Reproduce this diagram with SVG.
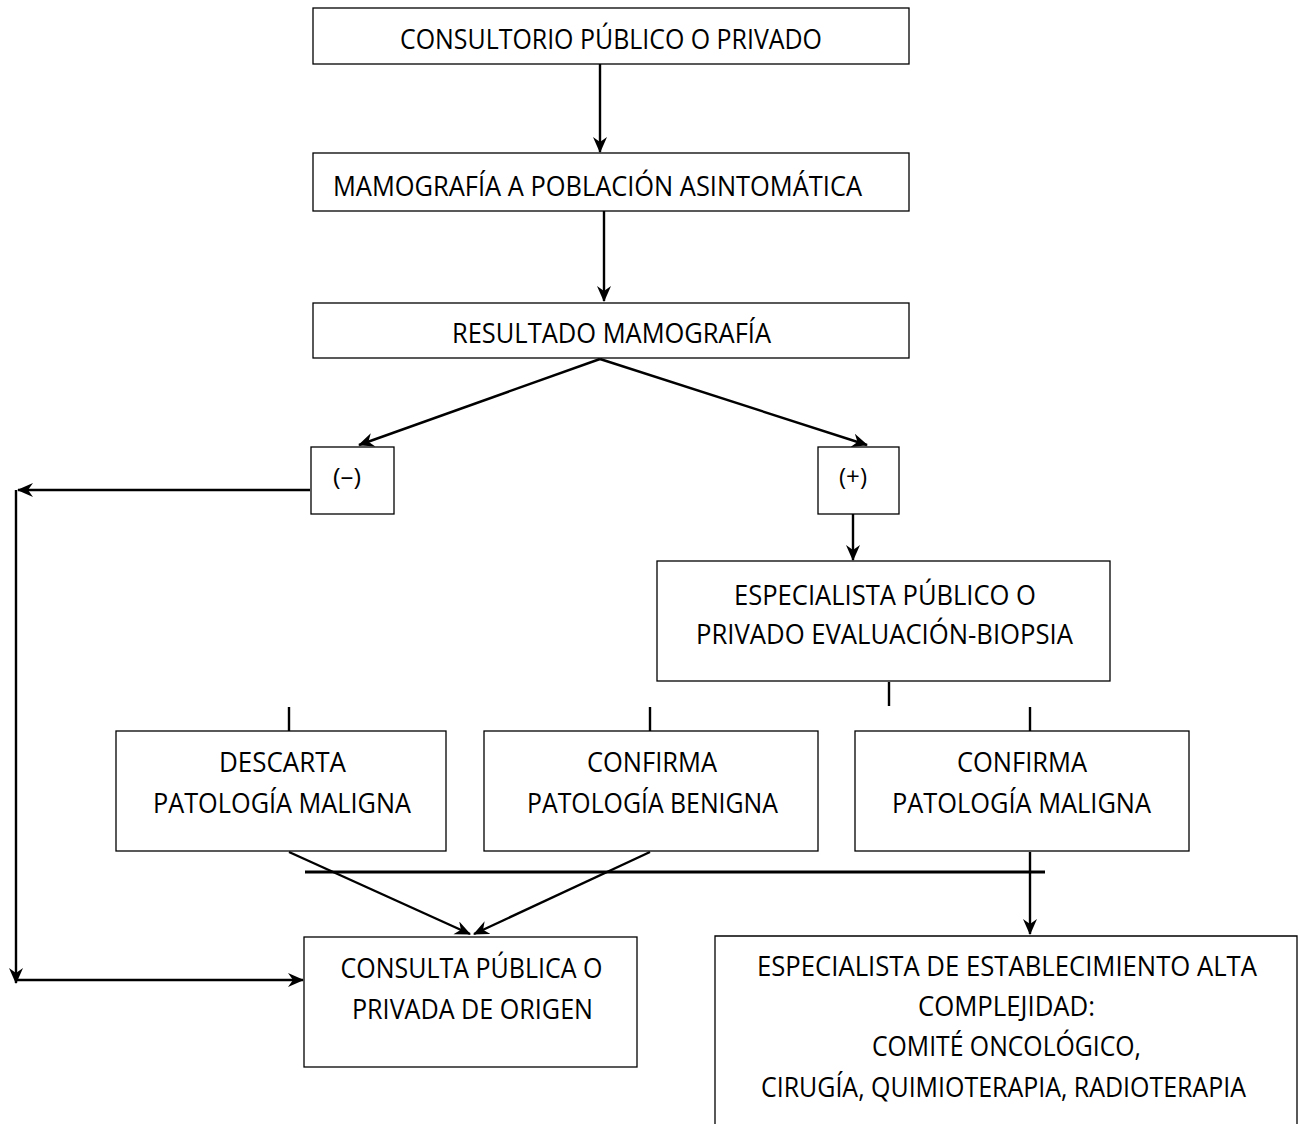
<svg xmlns="http://www.w3.org/2000/svg" width="1300" height="1124" viewBox="0 0 1300 1124">
<style>
  .box { fill: #ffffff; stroke: #000000; stroke-width: 1.3; }
  .lbl { font-family: "Open Sans", "Liberation Sans", sans-serif; font-size: 28px; fill: #000000; text-anchor: middle; }
  .sm { font-family: "Open Sans", "Liberation Sans", sans-serif; font-size: 23px; fill: #000000; text-anchor: middle; }
  .con { fill: none; stroke: #000000; stroke-width: 2.4; }
  .arr { marker-end: url(#ah); }
</style>
<defs>
  <marker id="ah" markerWidth="16" markerHeight="16" refX="15" refY="7" orient="auto" markerUnits="userSpaceOnUse">
    <path d="M0,0 L16,7 L0,14 L5,7 z" fill="#000000"/>
  </marker>
</defs>
<rect width="1300" height="1124" fill="#ffffff"/>

<g id="connectors">
  <line class="con arr" x1="600" y1="64" x2="600" y2="152"/>
  <line class="con arr" x1="604" y1="211" x2="604" y2="301"/>
  <line class="con arr" x1="600" y1="359" x2="359" y2="445"/>
  <line class="con arr" x1="600" y1="359" x2="867" y2="445"/>
  <line class="con arr" x1="310" y1="490" x2="18" y2="490"/>
  <line class="con arr" x1="16" y1="490" x2="16" y2="983"/>
  <line class="con arr" x1="16" y1="980" x2="303" y2="980"/>
  <line class="con arr" x1="853" y1="514" x2="853" y2="560"/>
  <line class="con" x1="889" y1="682" x2="889" y2="706"/>
  <line class="con" x1="289" y1="707" x2="289" y2="731"/>
  <line class="con" x1="650" y1="707" x2="650" y2="731"/>
  <line class="con" x1="1030" y1="707" x2="1030" y2="731"/>
  <line class="con" x1="305" y1="872" x2="1045" y2="872" style="stroke-width:2.8"/>
  <line class="con arr" x1="289" y1="852" x2="470" y2="934"/>
  <line class="con arr" x1="650" y1="852" x2="474" y2="934"/>
  <line class="con arr" x1="1030" y1="852" x2="1030" y2="934"/>
</g>

<g id="n1">
  <rect class="box" x="313" y="8" width="596" height="56"/>
  <text class="lbl" x="611" y="49" textLength="422" lengthAdjust="spacingAndGlyphs">CONSULTORIO PÚBLICO O PRIVADO</text>
</g>
<g id="n2">
  <rect class="box" x="313" y="153" width="596" height="58"/>
  <text class="lbl" x="597.5" y="196" textLength="529" lengthAdjust="spacingAndGlyphs">MAMOGRAFÍA A POBLACIÓN ASINTOMÁTICA</text>
</g>
<g id="n3">
  <rect class="box" x="313" y="303" width="596" height="55"/>
  <text class="lbl" x="611.5" y="343" textLength="319" lengthAdjust="spacingAndGlyphs">RESULTADO MAMOGRAFÍA</text>
</g>
<g id="neg">
  <rect class="box" x="311" y="447" width="83" height="67"/>
  <text class="sm" x="347" y="485" textLength="28" lengthAdjust="spacingAndGlyphs">(–)</text>
</g>
<g id="pos">
  <rect class="box" x="818" y="447" width="81" height="67"/>
  <text class="sm" x="853" y="485" textLength="28" lengthAdjust="spacingAndGlyphs">(+)</text>
</g>
<g id="n4">
  <rect class="box" x="657" y="561" width="453" height="120"/>
  <text class="lbl" x="885" y="605" textLength="302" lengthAdjust="spacingAndGlyphs">ESPECIALISTA PÚBLICO O</text>
  <text class="lbl" x="884.5" y="644" textLength="377" lengthAdjust="spacingAndGlyphs">PRIVADO EVALUACIÓN-BIOPSIA</text>
</g>
<g id="n5">
  <rect class="box" x="116" y="731" width="330" height="120"/>
  <text class="lbl" x="282.5" y="772" textLength="127" lengthAdjust="spacingAndGlyphs">DESCARTA</text>
  <text class="lbl" x="282" y="813" textLength="258" lengthAdjust="spacingAndGlyphs">PATOLOGÍA MALIGNA</text>
</g>
<g id="n6">
  <rect class="box" x="484" y="731" width="334" height="120"/>
  <text class="lbl" x="652" y="772" textLength="130" lengthAdjust="spacingAndGlyphs">CONFIRMA</text>
  <text class="lbl" x="652.5" y="813" textLength="251" lengthAdjust="spacingAndGlyphs">PATOLOGÍA BENIGNA</text>
</g>
<g id="n7">
  <rect class="box" x="855" y="731" width="334" height="120"/>
  <text class="lbl" x="1022" y="772" textLength="130" lengthAdjust="spacingAndGlyphs">CONFIRMA</text>
  <text class="lbl" x="1021.5" y="813" textLength="259" lengthAdjust="spacingAndGlyphs">PATOLOGÍA MALIGNA</text>
</g>
<g id="n8">
  <rect class="box" x="304" y="937" width="333" height="130"/>
  <text class="lbl" x="471.5" y="978" textLength="262" lengthAdjust="spacingAndGlyphs">CONSULTA PÚBLICA O</text>
  <text class="lbl" x="472.5" y="1019" textLength="241" lengthAdjust="spacingAndGlyphs">PRIVADA DE ORIGEN</text>
</g>
<g id="n9">
  <path class="box" d="M715,1124 L715,936 L1297,936 L1297,1124"/>
  <text class="lbl" x="1007" y="976" textLength="500" lengthAdjust="spacingAndGlyphs">ESPECIALISTA DE ESTABLECIMIENTO ALTA</text>
  <text class="lbl" x="1006.5" y="1016" textLength="177" lengthAdjust="spacingAndGlyphs">COMPLEJIDAD:</text>
  <text class="lbl" x="1006.5" y="1056" textLength="269" lengthAdjust="spacingAndGlyphs">COMITÉ ONCOLÓGICO,</text>
  <text class="lbl" x="1003.5" y="1097" textLength="485" lengthAdjust="spacingAndGlyphs">CIRUGÍA, QUIMIOTERAPIA, RADIOTERAPIA</text>
</g>
</svg>
